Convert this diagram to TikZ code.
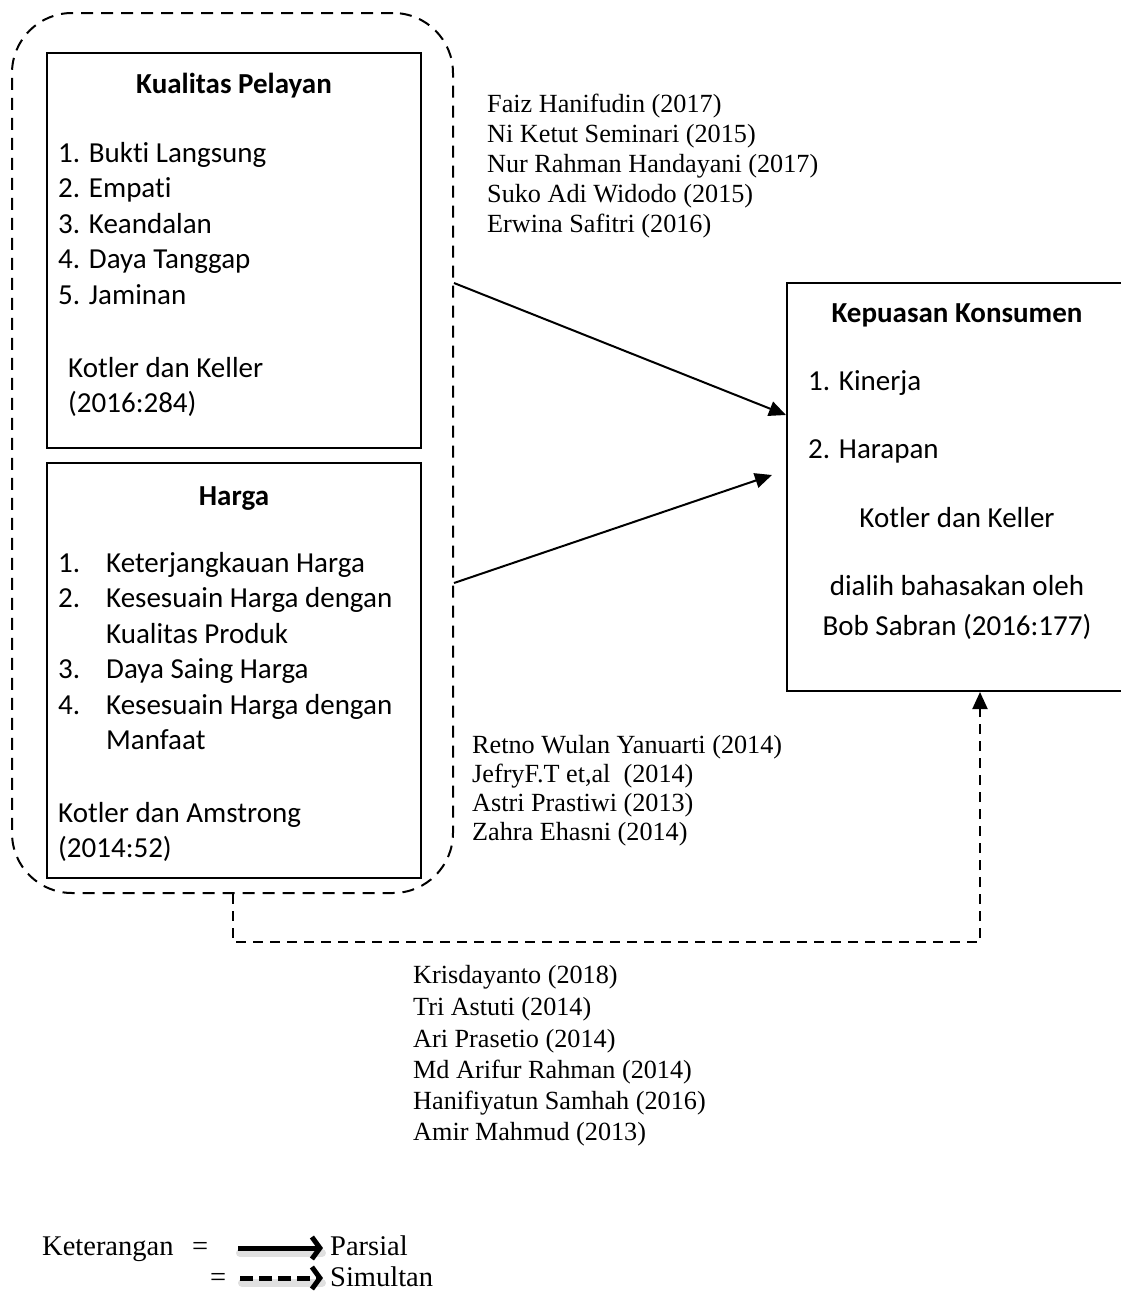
\documentclass[tikz,border=0pt]{standalone}
\usepackage{fontspec}
\setmainfont{Liberation Serif}
\newfontfamily\carlito[Ligatures=NoCommon]{Carlito}
\usetikzlibrary{arrows.meta}
\newcommand\calf{\carlito\fontsize{29}{35}\selectfont}
\newcommand\trf{\fontsize{26.2}{30}\selectfont}
\newcommand\lgf{\fontsize{28.5}{32}\selectfont}
\begin{document}
\begin{tikzpicture}[x=1pt,y=-1pt,
  box/.style={draw=black,line width=2pt,rectangle,inner sep=0,minimum width=#1},
  ct/.style={font=\calf,inner sep=0,anchor=base west},
  cb/.style={font=\calf\bfseries,inner sep=0,anchor=base},
  cc/.style={font=\calf,inner sep=0,anchor=base},
  tr/.style={font=\trf,inner sep=0,anchor=base west},
  lg/.style={font=\lgf,inner sep=0,anchor=base west},
  arr/.style={line width=2pt,-{Triangle[length=17pt,width=15pt]}},
  darr/.style={line width=2pt,dash pattern=on 10pt off 7pt,-{Triangle[length=17pt,width=15pt]}},
  grpstyle/.style={draw=black,line width=2pt,dash pattern=on 12pt off 8pt,rounded corners=60pt,rectangle,inner sep=0},
  legarr/.style={line width=5pt,-{Straight Barb[length=8pt,width=22pt,line width=5pt]}},
  legshadow/.style={line width=8pt,draw=black,opacity=0.12,line cap=round}
]
\useasboundingbox (0,0) rectangle (1121,1293);

% dashed group
\node[grpstyle,minimum width=441pt,minimum height=880pt] (grp) at (232.5,453) {};

% boxes
\node[box=374pt,minimum height=395pt] (kual) at (234,250.5) {};
\node[box=374pt,minimum height=415pt] (harga) at (234,670.5) {};
\node[box=343pt,minimum height=408pt] (kep) at (958.5,487) {};

% Kualitas Pelayan text
\node[cb] (kt) at (234,93) {Kualitas Pelayan};
\node[ct] (k1) at (58,162) {1. Bukti Langsung};
\node[ct] (k2) at (58,197.5) {2. Empati};
\node[ct] (k3) at (58,233) {3. Keandalan};
\node[ct] (k4) at (58,268.5) {4. Daya Tanggap};
\node[ct] (k5) at (58,304) {5. Jaminan};
\node[ct] (ks1) at (68,377) {Kotler dan Keller};
\node[ct] (ks2) at (68,412) {(2016:284)};

% Harga text
\node[cb] (ht) at (234,505) {Harga};
\node[ct] (hn1) at (58,572) {1.};
\node[ct] (h1) at (106,572) {Keterjangkauan Harga};
\node[ct] (hn2) at (58,607.5) {2.};
\node[ct] (h2) at (106,607.5) {Kesesuain Harga dengan};
\node[ct] (h2b) at (106,643) {Kualitas Produk};
\node[ct] (hn3) at (58,678.5) {3.};
\node[ct] (h3) at (106,678.5) {Daya Saing Harga};
\node[ct] (hn4) at (58,714) {4.};
\node[ct] (h4) at (106,714) {Kesesuain Harga dengan};
\node[ct] (h4b) at (106,749.5) {Manfaat};
\node[ct] (hs1) at (58,822) {Kotler dan Amstrong};
\node[ct] (hs2) at (58,857) {(2014:52)};

% Kepuasan Konsumen text
\node[cb] (pt) at (957,322) {Kepuasan Konsumen};
\node[ct] (p1) at (808,390) {1. Kinerja};
\node[ct] (p2) at (808,458) {2. Harapan};
\node[cc] (ps1) at (957,527) {Kotler dan Keller};
\node[cc] (ps2) at (957,595) {dialih bahasakan oleh};
\node[cc] (ps3) at (957,635) {Bob Sabran (2016:177)};

% reference groups
\node[tr] (ra1) at (487,112) {Faiz Hanifudin (2017)};
\node[tr] (ra2) at (487,142) {Ni Ketut Seminari (2015)};
\node[tr] (ra3) at (487,172) {Nur Rahman Handayani (2017)};
\node[tr] (ra4) at (487,202) {Suko Adi Widodo (2015)};
\node[tr] (ra5) at (487,232) {Erwina Safitri (2016)};

\node[tr] (rb1) at (472,753) {Retno Wulan Yanuarti (2014)};
\node[tr] (rb2) at (472,782) {JefryF.T et,al\ \ (2014)};
\node[tr] (rb3) at (472,811) {Astri Prastiwi (2013)};
\node[tr] (rb4) at (472,840) {Zahra Ehasni (2014)};

\node[tr] (rc1) at (413,983) {Krisdayanto (2018)};
\node[tr] (rc2) at (413,1015) {Tri Astuti (2014)};
\node[tr] (rc3) at (413,1047) {Ari Prasetio (2014)};
\node[tr] (rc4) at (413,1078) {Md Arifur Rahman (2014)};
\node[tr] (rc5) at (413,1109) {Hanifiyatun Samhah (2016)};
\node[tr] (rc6) at (413,1140) {Amir Mahmud (2013)};

% connectors
\coordinate (a1s) at (grp.east |- 0,283);
\coordinate (a1e) at (kep.west |- 0,415);
\coordinate (a2s) at (grp.east |- 0,583);
\coordinate (a2e) at (772,475);
\draw[arr] (a1s) -- (a1e);
\draw[arr] (a2s) -- (a2e);

\coordinate (s0) at (grp.south -| 233,0);
\coordinate (s1) at (980,942);
\draw[darr] (s0) |- (s1) -- (kep.south -| s1);

% legend
\node[lg] (ket) at (42,1255) {Keterangan};
\node[lg] (eq1) at (192,1255) {=};
\node[lg] (par) at (330,1255) {Parsial};
\node[lg] (eq2) at (210,1286) {=};
\node[lg] (sim) at (330,1286) {Simultan};
\coordinate (l1s) at (238,1248);
\coordinate (l1e) at (par.west |- l1s);
\coordinate (l2s) at (240,1278);
\coordinate (l2e) at (sim.west |- l2s);
\draw[legshadow] ([shift={(2,5)}]l1s) -- ([shift={(-8,5)}]l1e);
\draw[legshadow] ([shift={(2,5)}]l2s) -- ([shift={(-8,5)}]l2e);
\draw[legarr] (l1s) -- ([xshift=-7pt]l1e);
\draw[legarr,dash pattern=on 13pt off 6pt] (l2s) -- ([xshift=-7pt]l2e);
\end{tikzpicture}
\end{document}
